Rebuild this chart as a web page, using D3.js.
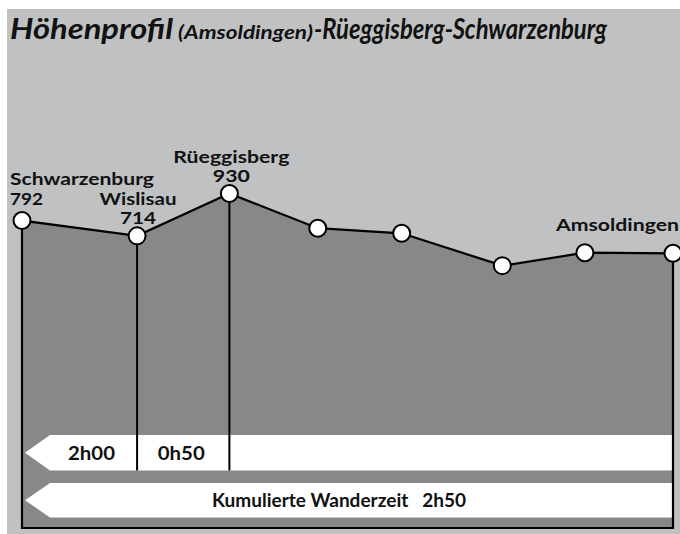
<!DOCTYPE html>
<html><head><meta charset="utf-8">
<script src="https://cdn.jsdelivr.net/npm/d3@7"></script>
<style>
html,body{margin:0;padding:0;background:#fff;}
svg{display:block;}
text{font-family:"Lato","Open Sans",sans-serif;fill:#111;}
</style></head>
<body>
<script>
// ---- data ----
const places = ["Schwarzenburg","Wislisau","Rüeggisberg","","","","","Amsoldingen"];
const distanceKm = [0, 4.95, 8.92, 12.72, 16.33, 20.66, 24.21, 28.0];
const elevation = [792, 714, 930, 753, 727, 562, 628, 625];
const shownElevation = ["792","714","930","","","","",""];
const segmentTimes = ["2h00","0h50"];
const totalLabel = "Kumulierte Wanderzeit   2h50";
const titleParts = ["Höhenprofil","(Amsoldingen)","-Rüeggisberg-Schwarzenburg"];

// ---- layout ----
const W = 680, H = 534;
const svg = d3.select("body").append("svg").attr("width", W).attr("height", H);
const x = d3.scaleLinear().domain([0, 28]).range([22, 673]);
const y = d3.scaleLinear().domain([500, 1000]).range([277.8, 179.8]);
const bottomY = 528;
const bar1 = {y0: 435, y1: 470.5}, bar2 = {y0: 483, y1: 517.5};
const tipX = 25, shoulderX = 50;

function fit(sel, w){ sel.attr("textLength", w).attr("lengthAdjust", "spacingAndGlyphs"); return sel; }

// light background panel
svg.append("rect").attr("x", 7).attr("y", 9).attr("width", W - 7).attr("height", H - 9).attr("fill", "#c0c1c3");

const pts = distanceKm.map((d, i) => [x(d), y(elevation[i])]);
const last = pts.length - 1;

// dark area
const areaGen = d3.area().x(d => d[0]).y0(bottomY).y1(d => d[1]).curve(d3.curveLinear);
svg.append("path").attr("d", areaGen(pts)).attr("fill", "#87888a");

// white time bars with arrow tip
function bar(b){
  const ym = (b.y0 + b.y1) / 2;
  const p = d3.path();
  p.moveTo(tipX, ym); p.lineTo(shoulderX, b.y0); p.lineTo(x(distanceKm[last]), b.y0);
  p.lineTo(x(distanceKm[last]), b.y1); p.lineTo(shoulderX, b.y1); p.closePath();
  svg.append("path").attr("d", p.toString()).attr("fill", "#fff");
}
bar(bar1); bar(bar2);

// vertical separators at Wislisau and Rüeggisberg
[1, 2].forEach(i => {
  svg.append("line").attr("x1", pts[i][0]).attr("x2", pts[i][0])
    .attr("y1", pts[i][1]).attr("y2", bar1.y1)
    .attr("stroke", "#000").attr("stroke-width", 2);
});

// outline of profile box
const outline = [[pts[0][0], bottomY], ...pts, [pts[last][0], bottomY]];
svg.append("path").attr("d", d3.line()(outline) + "Z")
  .attr("fill", "none").attr("stroke", "#000").attr("stroke-width", 2.2).attr("stroke-linejoin", "miter");

// circles
svg.selectAll("circle.pt").data(pts).join("circle").attr("class", "pt")
  .attr("cx", d => d[0]).attr("cy", d => d[1]).attr("r", 8.5)
  .attr("fill", "#fff").attr("stroke", "#000").attr("stroke-width", 2);

// place labels
const FS = 17;
const labelLayout = {
  0: {anchor: "start", dx: 10 - pts[0][0], nameW: 144, elevW: 33, nameDy: -36, elevDy: -16},
  1: {anchor: "middle", dx: 1, nameW: 77, elevW: 36, nameDy: -31, elevDy: -12},
  2: {anchor: "middle", dx: 2, nameW: 116, elevW: 37, nameDy: -31, elevDy: -12},
  7: {anchor: "end", dx: 6, nameW: 123, elevW: 0, nameDy: -22, elevDy: 0}
};
Object.keys(labelLayout).forEach(k => {
  const i = +k, L = labelLayout[k];
  const lx = pts[i][0] + L.dx;
  fit(svg.append("text").attr("x", lx).attr("y", pts[i][1] + L.nameDy)
    .attr("text-anchor", L.anchor).attr("font-size", FS).attr("font-weight", 700)
    .text(places[i]), L.nameW);
  if (shownElevation[i]) {
    fit(svg.append("text").attr("x", lx).attr("y", pts[i][1] + L.elevDy)
      .attr("text-anchor", L.anchor).attr("font-size", FS).attr("font-weight", 700)
      .text(shownElevation[i]), L.elevW);
  }
});

// bar texts
const segBounds = [[shoulderX, pts[1][0]], [pts[1][0], pts[2][0]]];
segmentTimes.forEach((t, i) => {
  fit(svg.append("text").attr("x", (segBounds[i][0] + segBounds[i][1]) / 2 - 2)
    .attr("y", 460).attr("text-anchor", "middle").attr("font-size", 18).attr("font-weight", 700)
    .text(t), 47);
});
fit(svg.append("text").attr("x", W / 2 - 1).attr("y", 507).attr("text-anchor", "middle")
  .attr("font-size", 18).attr("font-weight", 700).style("white-space", "pre")
  .text(totalLabel), 254);

// title
fit(svg.append("text").attr("x", 10).attr("y", 39).attr("font-size", 28)
  .attr("font-weight", 700).attr("font-style", "italic").text(titleParts[0]), 163);
fit(svg.append("text").attr("x", 178).attr("y", 39).attr("font-size", 18)
  .attr("font-weight", 700).attr("font-style", "italic").text(titleParts[1]), 135);
fit(svg.append("text").attr("x", 314).attr("y", 39).attr("font-size", 28)
  .attr("font-weight", 700).attr("font-style", "italic").text(titleParts[2]), 293);
</script>
</body></html>
